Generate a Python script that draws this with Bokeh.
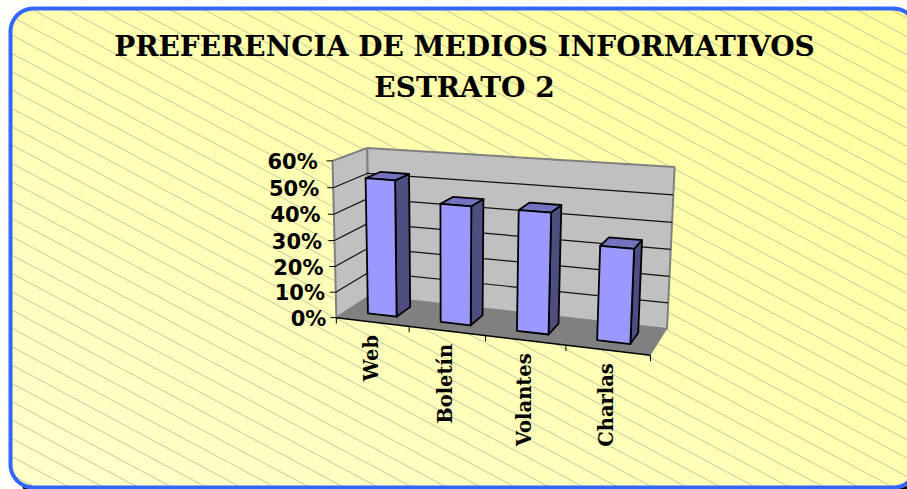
import numpy as np
from bokeh.plotting import figure
from bokeh.models import Range1d
from bokeh.core.properties import value
from bokeh.embed import file_html
from bokeh.resources import INLINE

title_lines = ["PREFERENCIA DE MEDIOS INFORMATIVOS", "ESTRATO 2"]
categories = ["Web", "Boletín", "Volantes", "Charlas"]
percent = [0.525, 0.45, 0.45, 0.345]
tick_values = [0.0, 0.1, 0.2, 0.3, 0.4, 0.5, 0.6]
tick_labels = ["0%", "10%", "20%", "30%", "40%", "50%", "60%"]

W, H = 907, 489
p = figure(width=W, height=H, output_backend="svg", toolbar_location=None,
           x_range=Range1d(0, W), y_range=Range1d(H, 0),
           x_axis_type=None, y_axis_type=None, min_border=0,
           outline_line_color=None)
p.grid.visible = False
p.background_fill_color = "white"
p.border_fill_color = "white"

# ---- chart-area background: diagonal gradient
n = 51
xs, ys, cols = [], [], []
for i in range(n):
    s0 = -1.05 + 2.1 * i / n
    s1 = -1.05 + 2.1 * (i + 1) / n
    xs.append([0, W, W, 0])
    ys.append([H * (0 - s0), H * (1 - s0), H * (1 - s1), H * (0 - s1)])
    b = int(round(0xCC - (0xCC - 0x99) * i / (n - 1)))
    cols.append("#FFFF%02X" % b)
p.patches(xs, ys, fill_color=cols, line_color=cols, line_width=0.5)

# ---- hatch
slope, gap, phase = 0.534, 18.33, 10.2
hx, hy = [], []
for k in range(-30, 32):
    c = phase + gap * k
    hx.append([0, W])
    hy.append([c, c + slope * W])
p.multi_line(hx, hy, line_color="#C8C8A0", line_width=1)

# ---- rounded frame
L, T, R, B, rad = 10.0, 8.0, 916.0, 487.0, 23.0
def arc(cx, cy, a0, a1, r=rad, m=14):
    t = np.radians(np.linspace(a0, a1, m))
    return cx + r * np.cos(t), cy + r * np.sin(t)
parts = [arc(L + rad, T + rad, 180, 270), arc(R - rad, T + rad, 270, 360),
         arc(R - rad, B - rad, 0, 90), arc(L + rad, B - rad, 90, 180)]
fx = np.concatenate([q[0] for q in parts])
fy = np.concatenate([q[1] for q in parts])
fx = np.append(fx, fx[0]); fy = np.append(fy, fy[0])
# white mask outside the frame
p.patch(list(fx) + [-5, -5, W + 30, W + 30, -5, -5],
        list(fy) + [fy[0], H + 30, H + 30, -5, -5, fy[0]],
        fill_color="white", line_color=None)
# shadow
sx1, sy1 = arc(R - rad + 3, B - rad + 3, 0, 90)
sx2, sy2 = arc(L + rad + 3, B - rad + 3, 90, 125, m=6)
p.multi_line([list(sx1), list(sx2)], [list(sy1), list(sy2)], line_color="black", line_width=4)
p.line(fx, fy, line_color="#3366FF", line_width=4)

# ---- projection from chart coordinates (category u, value v, depth d) to the page
cal = [((0, .6, 0), (331, 160)), ((0, 0, 0), (337, 316)), ((0, .6, 1), (368, 147)),
       ((0, 0, 1), (368, 297)), ((4, .6, 1), (674, 167)), ((4, 0, 1), (667, 327)),
       ((4, 0, 0), (650, 356)), ((1, 0, 0), (409, 325)), ((2, 0, 0), (484, 335)),
       ((3, 0, 0), (566, 345)), ((0, .3, 0), (334, 241)), ((4, .3, 1), (670, 249))]
A = []
for (u, v, d), (x, y) in cal:
    P3 = [u, v * 10, d, 1]
    x, y = x / 100, y / 100
    A.append(P3 + [0, 0, 0, 0] + [-x * c for c in P3])
    A.append([0, 0, 0, 0] + P3 + [-y * c for c in P3])
M = np.linalg.svd(np.array(A, float))[2][-1].reshape(3, 4)
def pr(u, v, d):
    q = M @ np.array([u, v * 10, d, 1.0])
    return 100 * q[0] / q[2], 100 * q[1] / q[2]
def poly(pts):
    a = [pr(*t) for t in pts]
    return [c[0] for c in a], [c[1] for c in a]

top = tick_values[-1]
nc = len(categories)
GREY = "#808080"
x_, y_ = poly([(0, 0, 0), (0, top, 0), (0, top, 1), (0, 0, 1)])
p.patch(x_, y_, fill_color="#C0C0C0", line_color=GREY, line_width=2)
x_, y_ = poly([(0, 0, 1), (0, top, 1), (nc, top, 1), (nc, 0, 1)])
p.patch(x_, y_, fill_color="#C0C0C0", line_color=GREY, line_width=2)
x_, y_ = poly([(0, 0, 0), (0, 0, 1), (nc, 0, 1), (nc, 0, 0)])
p.patch(x_, y_, fill_color=GREY, line_color=None)

gx, gy = [], []
for v in tick_values[1:-1]:
    x_, y_ = poly([(0, v, 0), (0, v, 1), (nc, v, 1)])
    gx.append(x_); gy.append(y_)
p.multi_line(gx, gy, line_color="#111111", line_width=1.2)

# axis lines and ticks
x_, y_ = poly([(0, 0, 0), (nc, 0, 0)])
p.line(x_, y_, line_color="black", line_width=1.5)
tx, ty = [], []
for v in tick_values:
    a = pr(0, v, 0)
    tx.append([a[0] - 6, a[0]]); ty.append([a[1], a[1]])
for u in range(nc + 1):
    a = pr(u, 0, 0)
    tx.append([a[0], a[0]]); ty.append([a[1], a[1] + 6])
p.multi_line(tx, ty, line_color="black", line_width=1)

# bars
hw, d0, d1 = 0.2, 0.30, 0.74
for i, val in enumerate(percent):
    u0, u1 = i + 0.5 - hw, i + 0.5 + hw
    x_, y_ = poly([(u1, 0, d0), (u1, 0, d1), (u1, val, d1), (u1, val, d0)])
    p.patch(x_, y_, fill_color="#4D4D80", line_color="black", line_width=1.8, line_join="round")
    x_, y_ = poly([(u0, val, d0), (u0, val, d1), (u1, val, d1), (u1, val, d0)])
    p.patch(x_, y_, fill_color="#7373BF", line_color="black", line_width=1.8, line_join="round")
    x_, y_ = poly([(u0, 0, d0), (u0, val, d0), (u1, val, d0), (u1, 0, d0)])
    p.patch(x_, y_, fill_color="#9999FF", line_color="black", line_width=1.8, line_join="round")

# value labels
lx, ly = [], []
for v in tick_values:
    a = pr(0, v, 0)
    lx.append(a[0] - 10 - 8 * v); ly.append(a[1] + 1)
p.text(lx, ly, text=tick_labels, text_font=value("DejaVu Sans"), text_font_style="bold",
       text_font_size="21px", text_align="right", text_baseline="middle", text_color="black")

# category labels
cx, cy = [], []
for i in range(nc):
    a = pr(i + 0.5, 0, 0)
    cx.append(a[0] - 1); cy.append(a[1] + 13)
p.text(cx, cy, text=categories, angle=np.pi / 2, text_font=value("DejaVu Serif"), text_font_style="bold",
       text_font_size="19.5px", text_align="right", text_baseline="middle", text_color="black")

# title
p.text([464, 464], [46, 87], text=title_lines, text_font=value("DejaVu Serif"), text_font_style="bold",
       text_font_size="28px", text_align="center", text_baseline="middle", text_color="black")

open("out.html", "w").write(file_html(p, INLINE))
